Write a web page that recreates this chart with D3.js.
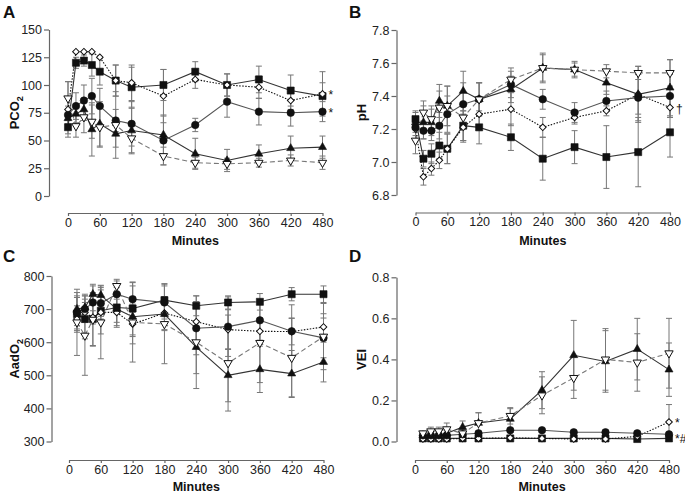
<!DOCTYPE html>
<html><head><meta charset="utf-8">
<script src="https://cdn.jsdelivr.net/npm/d3@7"></script>
<style>body{margin:0;background:#fff}svg{display:block;font-family:"Liberation Sans",Arial,sans-serif}</style>
</head><body><svg id="c" width="685" height="494"></svg>
<script>
// ---------- data ----------
const timesAB = [0,15,30,45,60,90,120,180,240,300,360,420,480];
const timesCD = [15,30,45,60,90,120,180,240,300,360,420,480];
const seriesNames = ["square","diamond","circle","triangle","downTriangle"];
const xTicks = [0,60,120,180,240,300,360,420,480];

const pco2 = {
  square:      [62,120,122,118,112,104,98,100,112,100,105,95,90],
  diamond:     [78,130,130,130,125,104,102,90,105,100,98,86,92],
  circle:      [73,81,86,90,81,68,65,50,64,85,76,75,76],
  triangle:    [70,74,78,60,65,56,59,55,38,32,38,43,44],
  downTriangle:[88,63,71,67,62,64,52,36,30,29,30,32,30]
};
const pco2Err = {
  square:      [6,5,5,10,12,14,18,14,9,10,12,14,12],
  diamond:     [25,0,0,0,0,14,16,24,8,10,10,8,20],
  circle:      [8,12,14,16,16,10,20,22,6,14,12,12,9],
  triangle:    [8,8,10,24,20,12,20,18,14,10,8,11,10],
  downTriangle:[15,10,14,15,18,30,14,8,5,5,4,5,6]
};
const ph = {
  square:      [7.26,7.02,7.05,7.10,7.08,7.22,7.21,7.15,7.02,7.09,7.03,7.06,7.18],
  diamond:     [7.20,6.91,6.96,7.01,7.08,7.21,7.29,7.32,7.21,7.27,7.31,7.41,7.33],
  circle:      [7.21,7.19,7.19,7.22,7.29,7.35,7.38,7.47,7.38,7.30,7.37,7.39,7.40],
  triangle:    [7.24,7.24,7.24,7.37,7.34,7.43,7.38,7.44,7.57,7.56,7.48,7.41,7.45],
  downTriangle:[7.13,7.30,7.26,7.33,7.34,7.27,7.38,7.50,7.57,7.56,7.55,7.54,7.54]
};
const phErr = {
  square:      [0.05,0.05,0.06,0.08,0.09,0.09,0.10,0.08,0.13,0.10,0.19,0.21,0.15],
  diamond:     [0.06,0.05,0.04,0.05,0.09,0.08,0.09,0.10,0.06,0.04,0.03,0.12,0.06],
  circle:      [0.05,0.05,0.06,0.08,0.11,0.13,0.10,0.08,0.06,0.06,0.06,0.14,0.13],
  triangle:    [0.06,0.10,0.08,0.10,0.12,0.12,0.10,0.08,0.09,0.04,0.07,0.17,0.17],
  downTriangle:[0.08,0.07,0.08,0.10,0.12,0.15,0.10,0.07,0.08,0.05,0.04,0.04,0.08]
};
const aado2 = {
  square:      [685,670,670,695,705,702,727,710,720,722,745,745],
  diamond:     [670,690,675,690,690,655,688,662,638,633,632,646],
  circle:      [690,700,720,718,745,730,720,642,647,666,633,613],
  triangle:    [700,705,745,742,700,677,685,585,500,518,505,540],
  downTriangle:[660,620,668,660,770,660,655,600,537,598,553,617]
};
const aado2Err = {
  square:      [50,60,80,70,60,80,50,30,20,25,20,25],
  diamond:     [40,30,20,20,40,60,50,60,60,40,40,40],
  circle:      [50,40,50,40,40,40,50,80,90,60,80,60],
  triangle:    [50,40,30,30,40,60,50,80,80,70,70,60],
  downTriangle:[100,120,80,110,20,120,120,140,145,120,120,100]
};
const vei = {
  square:      [0.015,0.015,0.015,0.015,0.015,0.015,0.015,0.015,0.015,0.015,0.012,0.015],
  diamond:     [0.012,0.012,0.012,0.012,0.015,0.015,0.018,0.015,0.012,0.012,0.025,0.095],
  circle:      [0.03,0.03,0.03,0.03,0.035,0.04,0.055,0.055,0.045,0.045,0.04,0.035],
  triangle:    [0.03,0.03,0.03,0.04,0.07,0.09,0.11,0.25,0.42,0.39,0.45,0.35],
  downTriangle:[0.04,0.05,0.05,0.06,0.04,0.09,0.125,0.225,0.31,0.40,0.385,0.43]
};
const veiErr = {
  square:      [0.005,0.005,0.005,0.005,0.005,0.005,0.005,0.005,0.005,0.005,0.005,0.005],
  diamond:     [0.005,0.005,0.005,0.005,0.005,0.005,0.005,0.005,0.005,0.005,0.01,0.085],
  circle:      [0.008,0.008,0.008,0.008,0.008,0.01,0.01,0.01,0.01,0.01,0.01,0.01],
  triangle:    [0.01,0.01,0.01,0.02,0.03,0.05,0.05,0.09,0.17,0.15,0.15,0.13],
  downTriangle:[0.01,0.02,0.02,0.03,0.02,0.05,0.04,0.09,0.10,0.15,0.14,0.17]
};

// ---------- styles ----------
const style = {
  square:      {sym:d3.symbolSquare, size:50, fill:"#111", line:"#333", dash:null, rot:0},
  diamond:     {sym:d3.symbolSquare, size:22, fill:"#fff", line:"#111", dash:"1.5,1.5", rot:45},
  circle:      {sym:d3.symbolCircle, size:44, fill:"#111", line:"#555", dash:null, rot:0},
  triangle:    {sym:d3.symbolTriangle, size:28, fill:"#111", line:"#333", dash:null, rot:0},
  downTriangle:{sym:d3.symbolTriangle, size:30, fill:"#fff", line:"#777", dash:"5,3", rot:180}
};

const svg = d3.select("#c");

const panels = [
  {letter:"A", lx:3, ly:18, label:"PCO", sub:"2", labx:14, times:timesAB, data:pco2, err:pco2Err,
   yDomain:[0,150], yTicks:[0,25,50,75,100,125,150], fmt:d3.format("d"),
   yAxisX:49, yTop:29.5, yBot:196, xAxisY:213, x0:68, x1:322.5, minY:245,
   notes:[{s:"diamond",t:"*",dy:0},{s:"circle",t:"*",dy:0}]},
  {letter:"B", lx:349, ly:18, label:"pH", sub:"", labx:361, times:timesAB, data:ph, err:phErr,
   yDomain:[6.8,7.8], yTicks:[6.8,7.0,7.2,7.4,7.6,7.8], fmt:d3.format(".1f"),
   yAxisX:396.5, yTop:30, yBot:195, xAxisY:212.5, x0:415.5, x1:670, minY:245,
   notes:[{s:"diamond",t:"†",dy:0}]},
  {letter:"C", lx:3, ly:262, label:"AadO", sub:"2", labx:14, times:timesCD, data:aado2, err:aado2Err,
   yDomain:[300,800], yTicks:[300,400,500,600,700,800], fmt:d3.format("d"),
   yAxisX:51.5, yTop:276, yBot:441.5, xAxisY:460, x0:69, x1:323.5, minY:491,
   notes:[]},
  {letter:"D", lx:349, ly:262, label:"VEI", sub:"", labx:361, times:timesCD, data:vei, err:veiErr,
   yDomain:[0,0.8], yTicks:[0,0.2,0.4,0.6,0.8], fmt:d3.format(".1f"),
   yAxisX:396.5, yTop:277.3, yBot:441.5, xAxisY:460, x0:415, x1:669, minY:491,
   notes:[{s:"diamond",t:"*",dy:0},{s:"circle",t:"*#",dy:4}]}
];

panels.forEach(p => {
  const g = svg.append("g");
  const x = d3.scaleLinear().domain([0,480]).range([p.x0,p.x1]);
  const y = d3.scaleLinear().domain(p.yDomain).range([p.yBot,p.yTop]);

  g.append("text").attr("x",p.lx).attr("y",p.ly).attr("font-size",17).attr("font-weight","bold").attr("fill","#111").text(p.letter);

  const ya = g.append("g").attr("transform",`translate(${p.yAxisX},0)`)
    .call(d3.axisLeft(y).tickValues(p.yTicks).tickFormat(p.fmt).tickSize(5).tickSizeOuter(0));
  const xa = g.append("g").attr("transform",`translate(0,${p.xAxisY})`)
    .call(d3.axisBottom(x).tickValues(xTicks).tickSize(3).tickSizeOuter(0));
  [ya,xa].forEach(a=>{
    a.select(".domain").attr("stroke","#666").attr("stroke-width",1.2);
    a.selectAll(".tick line").attr("stroke","#666").attr("stroke-width",1.2);
    a.selectAll(".tick text").attr("font-size",12.5).attr("fill","#222").attr("font-family","Liberation Sans, Arial, sans-serif");
  });
  ya.selectAll(".tick text").attr("x",-7);
  xa.selectAll(".tick text").attr("y",5);

  g.append("text").attr("x",(p.x0+p.x1)/2).attr("y",p.minY).attr("text-anchor","middle")
    .attr("font-size",12.5).attr("font-weight","bold").attr("fill","#111").text("Minutes");
  const yl = g.append("text").attr("transform",`translate(${p.labx+5},${(p.yTop+p.yBot)/2}) rotate(-90)`)
    .attr("text-anchor","middle").attr("font-size",13).attr("font-weight","bold").attr("fill","#111");
  yl.append("tspan").text(p.label);
  if (p.sub) yl.append("tspan").attr("font-size",9).attr("dy",4).text(p.sub);

  // error bars
  seriesNames.forEach(s => {
    const vals = p.data[s], errs = p.err[s];
    p.times.forEach((t,i) => {
      const e = errs[i]; if (!e) return;
      const cx = x(t), top = y(vals[i]+e), bot = y(vals[i]-e);
      const eg = g.append("g").attr("stroke","#777").attr("stroke-width",1);
      eg.append("line").attr("x1",cx).attr("x2",cx).attr("y1",top).attr("y2",bot);
      eg.append("line").attr("x1",cx-3).attr("x2",cx+3).attr("y1",top).attr("y2",top);
      eg.append("line").attr("x1",cx-3).attr("x2",cx+3).attr("y1",bot).attr("y2",bot);
    });
  });

  // lines
  seriesNames.forEach(s => {
    const st = style[s];
    const line = d3.line().x((d,i)=>x(p.times[i])).y(d=>y(d));
    g.append("path").datum(p.data[s]).attr("d",line).attr("fill","none")
      .attr("stroke",st.line).attr("stroke-width",1.1).attr("stroke-dasharray",st.dash);
  });

  // markers
  seriesNames.forEach(s => {
    const st = style[s];
    const sym = d3.symbol().type(st.sym).size(st.size);
    g.append("g").selectAll("path").data(p.data[s]).join("path")
      .attr("d",sym)
      .attr("transform",(d,i)=>`translate(${x(p.times[i])},${y(d)}) rotate(${st.rot})`)
      .attr("fill",st.fill).attr("stroke","#111").attr("stroke-width",st.fill==="#fff"?1:0.6);
  });

  p.notes.forEach(n => {
    const last = p.data[n.s][p.data[n.s].length-1];
    g.append("text").attr("x",x(480)+6).attr("y",y(last)+5+n.dy).attr("font-size",12).attr("fill","#111").text(n.t);
  });
});
</script></body></html>
